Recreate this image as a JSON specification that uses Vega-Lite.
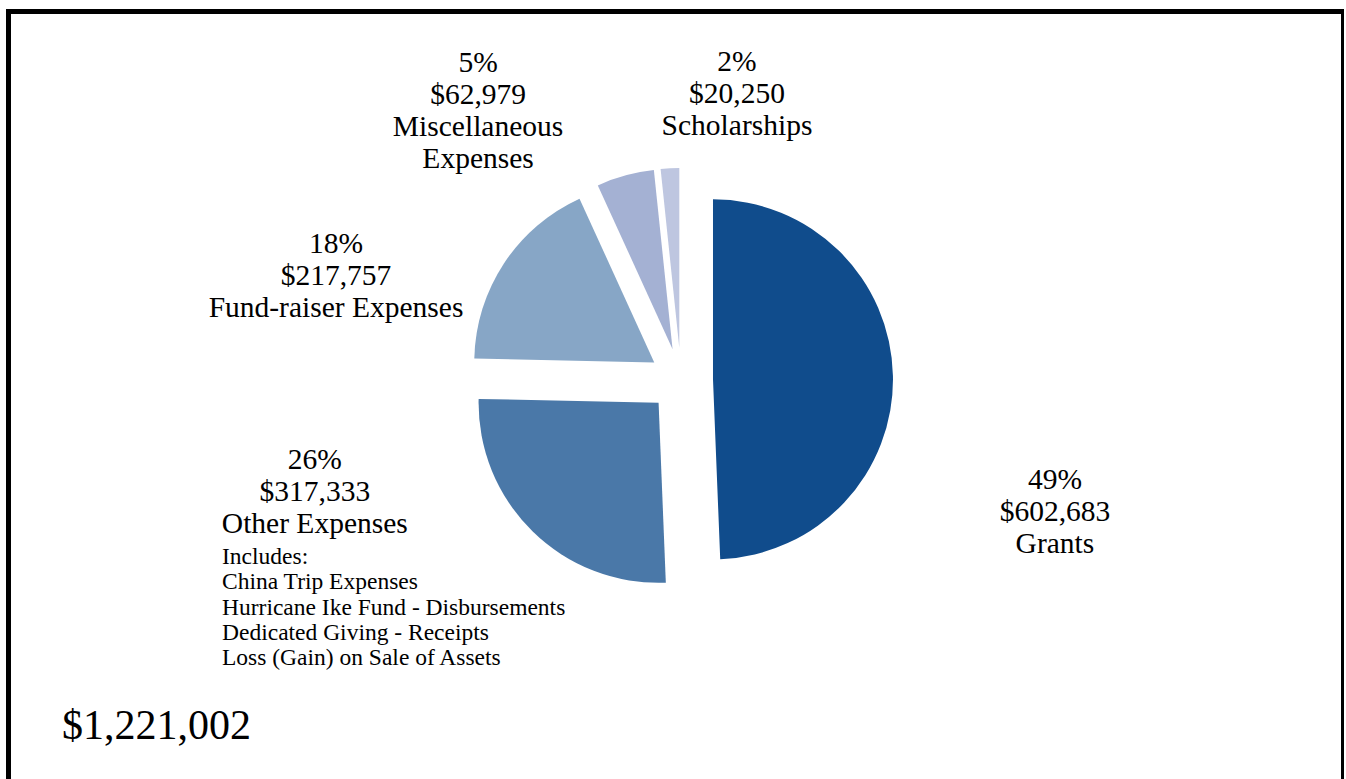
{
  "$schema": "https://vega.github.io/schema/vega-lite/v6.json",
  "width": 1335,
  "height": 790,
  "autosize": {"type": "none"},
  "padding": {"left": 8.5, "top": 11.5, "right": 0, "bottom": 0},
  "background": "white",
  "view": {"stroke": "black", "strokeWidth": 5, "fill": "white"},
  "config": {"view": {"stroke": "black", "strokeWidth": 5}, "font": "Liberation Serif"},
  "title": {
    "text": "$1,221,002",
    "orient": "bottom",
    "anchor": "start",
    "frame": "group",
    "offset": -62.5,
    "dx": 53.5,
    "baseline": "alphabetic",
    "font": "Liberation Serif",
    "fontSize": 42,
    "fontWeight": "normal",
    "color": "black"
  },
  "data": {
    "values": [
      {"category": "Grants", "amount": 602683},
      {"category": "Other Expenses", "amount": 317333, "note": "Includes:\nChina Trip Expenses\nHurricane Ike Fund - Disbursements\nDedicated Giving - Receipts\nLoss (Gain) on Sale of Assets"},
      {"category": "Fund-raiser Expenses", "amount": 217757},
      {"category": "Miscellaneous Expenses", "amount": 62979},
      {"category": "Scholarships", "amount": 20250}
    ]
  },
  "transform": [
    {"joinaggregate": [{"op": "sum", "field": "amount", "as": "total"}]},
    {"calculate": "format(datum.amount / datum.total, '.0%') + '\\n$' + format(datum.amount, ',') + '\\n' + replace(datum.category, 'Miscellaneous ', 'Miscellaneous\\n')", "as": "label"},
    {"calculate": "datum.note ? datum.note : ''", "as": "noteText"}
  ],
  "encoding": {
    "theta": {"field": "amount", "type": "quantitative", "stack": true},
    "order": {"field": "amount", "type": "quantitative", "sort": "descending"}
  },
  "layer": [
    {
      "mark": {
        "type": "arc",
        "radius": 180,
        "xOffset": {"expr": "5 + 32 * sin(PI * (datum.amount_start + datum.amount_end) / datum.total)"},
        "yOffset": {"expr": "-26.5 - 32 * cos(PI * (datum.amount_start + datum.amount_end) / datum.total)"}
      },
      "encoding": {
        "color": {
          "field": "category",
          "type": "nominal",
          "scale": {
            "domain": ["Grants", "Other Expenses", "Fund-raiser Expenses", "Miscellaneous Expenses", "Scholarships"],
            "range": ["#104C8C", "#4A78A8", "#87A6C6", "#A4B1D3", "#BEC6E0"]
          },
          "legend": null
        }
      }
    },
    {
      "mark": {
        "type": "text",
        "radius": 300,
        "font": "Liberation Serif",
        "fontSize": 29.5,
        "lineHeight": 32,
        "lineBreak": "\n",
        "align": "center",
        "baseline": "middle",
        "color": "black",
        "dx": {"expr": "datum.category === 'Grants' ? 79 : datum.category === 'Other Expenses' ? -151 : datum.category === 'Fund-raiser Expenses' ? -89.4 : datum.category === 'Miscellaneous Expenses' ? -119 : 76.6"},
        "dy": {"expr": "datum.category === 'Grants' ? 79.5 : datum.category === 'Other Expenses' ? -160.5 : datum.category === 'Fund-raiser Expenses' ? 2.5 : datum.category === 'Miscellaneous Expenses' ? -54.4 : -45.4"}
      },
      "encoding": {"text": {"field": "label", "type": "nominal"}}
    },
    {
      "mark": {
        "type": "text",
        "radius": 300,
        "font": "Liberation Serif",
        "fontSize": 23.5,
        "lineHeight": 25.25,
        "lineBreak": "\n",
        "align": "left",
        "baseline": "middle",
        "color": "black",
        "dx": -243.8,
        "dy": -63.5
      },
      "encoding": {"text": {"field": "noteText", "type": "nominal"}}
    }
  ]
}
